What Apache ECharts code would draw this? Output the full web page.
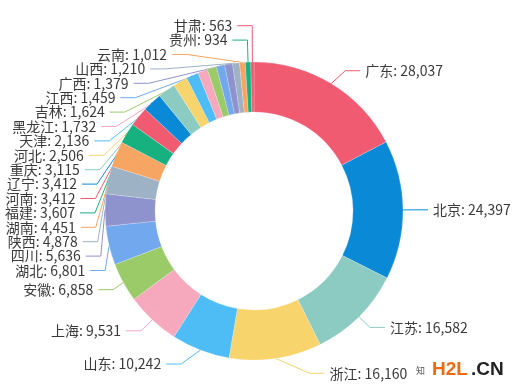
<!DOCTYPE html>
<html><head><meta charset="utf-8">
<script src="https://cdn.jsdelivr.net/npm/echarts@6/dist/echarts.min.js"></script>
<style>html,body{margin:0;padding:0;background:#fff}#c{width:518px;height:392px}</style>
</head><body><div id="c"></div>
<script>
const provinces = ['广东','北京','江苏','浙江','山东','上海','安徽','湖北','四川','陕西','湖南','福建','河南','辽宁','重庆','河北','天津','黑龙江','吉林','江西','广西','山西','云南','贵州','甘肃'];
const values = [28037,24397,16582,16160,10242,9531,6858,6801,5636,4878,4451,3607,3412,3412,3115,2506,2136,1732,1624,1459,1379,1210,1012,934,563];
const palette = ['#f05b72','#0a8ad6','#8ccbc1','#f8d46c','#4fbdf5','#f6a8bc','#9bcb68','#72a8ee','#8f93cd','#9db2c4','#f7a562','#16b17e'];

// layout parameters
const W = 518, H = 392;
const CX = 254, CY = 211, R0 = 99, R = 149;
const LEN = 15, LEN2 = 15, DIST = 5, LABEL_H = 14.4;

function commas(n){return String(n).replace(/\B(?=(\d{3})+(?!\d))/g, ',');}

// Outer label layout: overlapping labels are packed into groups centred between
// their extreme natural positions, then x is aligned on a curve around the ring.
function computeLabelLayout() {
  const total = values.reduce((a,b)=>a+b,0);
  let acc = 0;
  const items = values.map((v, i) => {
    const mid = (acc + v / 2) / total * Math.PI * 2;
    acc += v;
    const sx = Math.sin(mid), sy = -Math.cos(mid);
    const dir = sx < 0 ? -1 : 1;
    const x1 = CX + R * sx, y1 = CY + R * sy;
    const x2 = CX + (R + LEN) * sx, y2 = CY + (R + LEN) * sy;
    const x3 = x2 + dir * LEN2;
    return {i, dir, x1, y1, x: x3 + dir * DIST, y: y2, ny: y2};
  });
  function adjust(list, dir) {
    list.sort((a,b)=>a.ny-b.ny);
    const groups = [];
    function place(g) {
      const n = g.items.length;
      let c = (g.items[0].ny + g.items[n-1].ny) / 2;
      let start = c - (n - 1) / 2 * LABEL_H;
      start = Math.max(start, LABEL_H / 2);
      start = Math.min(start, H - LABEL_H / 2 - (n - 1) * LABEL_H);
      g.start = start;
      g.end = start + (n - 1) * LABEL_H;
    }
    list.forEach(it => {
      let g = {items: [it]};
      place(g);
      while (groups.length && groups[groups.length-1].end + LABEL_H > g.start) {
        const p = groups.pop();
        g = {items: p.items.concat(g.items)};
        place(g);
      }
      groups.push(g);
    });
    groups.forEach(g => g.items.forEach((it, k) => { it.y = g.start + k * LABEL_H; }));
    const up = [], down = [];
    list.forEach(it => (it.y >= CY ? down : up).push(it));
    function changeX(sub, isDown) {
      let last = isDown ? Number.MAX_VALUE : 0;
      sub.forEach(it => {
        const dy = Math.abs(it.y - CY);
        const rr = R + LEN + LEN2;
        let dx = dy < R + LEN ? Math.sqrt(rr*rr - dy*dy) : Math.abs(it.x - CX);
        if (isDown && dx >= last) dx = last - 10;
        if (!isDown && dx <= last) dx = last + 10;
        it.x = CX + dx * dir;
        last = dx;
      });
    }
    changeX(up, false);
    changeX(down, true);
  }
  adjust(items.filter(it=>it.dir<0), -1);
  adjust(items.filter(it=>it.dir>0), 1);
  items.forEach(it => {
    it.p2x = it.x - it.dir * DIST;
    it.p1x = it.p2x - it.dir * LEN2;
  });
  return items;
}
const LAYOUT = computeLabelLayout();

const chart = echarts.init(document.getElementById('c'), null, {renderer:'canvas'});
chart.setOption({
  color: palette,
  animation: false,
  series: [{
    type: 'pie',
    center: [CX, CY],
    radius: [R0, R],
    startAngle: 90,
    avoidLabelOverlap: false,
    data: provinces.map((p,i)=>({name:p, value:values[i]})),
    label: {
      formatter: p => p.name + ': ' + commas(p.value),
      color: '#3a3a3a',
      fontSize: 14,
      overflow: 'none',
      fontFamily: '"Noto Sans CJK SC", sans-serif'
    },
    labelLine: { length: LEN, length2: LEN2, lineStyle: {width: 1} },
    labelLayout: function (params) {
      const L = LAYOUT[params.dataIndex];
      return {
        x: L.x, y: L.y,
        align: L.dir < 0 ? 'right' : 'left',
        verticalAlign: 'middle',
        labelLinePoints: [[L.x1, L.y1], [L.p1x, L.y], [L.p2x, L.y]]
      };
    },
    itemStyle: { borderColor: 'rgba(255,255,255,0.4)', borderWidth: 0.5 }
  }],
  graphic: [{
    type: 'text', left: 416, top: 366,
    style: { text: '知', fill: '#555', font: '9px "Noto Sans CJK SC"' }
  },{
    type: 'text', x: 432, y: 370,
    style: { text: 'H2L', fill: '#f26a10', font: 'bold 19px Arial', textVerticalAlign: 'middle' }
  },{
    type: 'text', x: 471, y: 370,
    style: { text: '.CN', fill: '#222', font: 'bold 19px Arial', textVerticalAlign: 'middle' }
  }]
});
</script></body></html>
